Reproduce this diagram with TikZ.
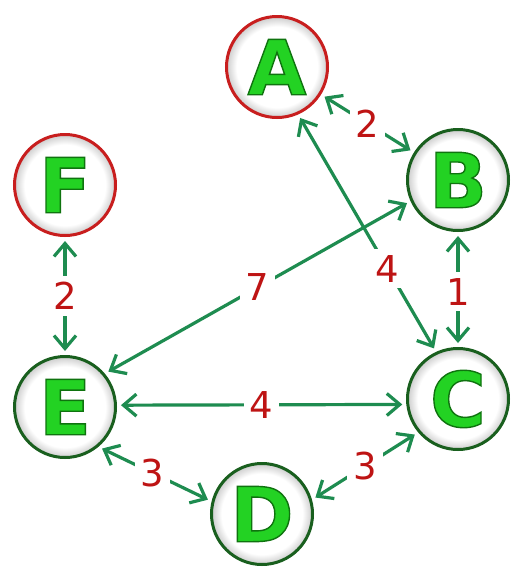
\documentclass[tikz,border=0pt]{standalone}
\usepackage{fontspec}
\setmainfont{DejaVu Sans}
\usetikzlibrary{arrows.meta}
\definecolor{edgegreen}{RGB}{30,140,80}
\definecolor{ringgreen}{RGB}{25,95,30}
\definecolor{ringred}{RGB}{200,30,30}
\definecolor{letterfill}{RGB}{35,210,35}
\definecolor{weightred}{RGB}{190,20,20}
\pgfdeclareradialshading{nodeglow}{\pgfpoint{0bp}{0bp}}{color(0bp)=(white); color(20bp)=(white); color(25bp)=(gray!40); color(50bp)=(gray!40)}
\newcommand{\bevelletter}[1]{{\color{letterfill}\special{pdf:literal direct 2 Tr 1.4 w 0.06 0.45 0.06 RG}#1\special{pdf:literal direct 0 Tr}}}

\begin{document}
\begin{tikzpicture}[x=1pt, y=1pt,
  vertex/.style={circle, draw=ringgreen, line width=3pt, shade, shading=nodeglow,
                 minimum size=101pt, inner sep=0pt, font=\bfseries\fontsize{76}{76}\selectfont},
  rootnode/.style={vertex, draw=ringred},
  link/.style={{Straight Barb[length=13pt,width=22pt]}-{Straight Barb[length=13pt,width=22pt]},
               line width=3.2pt, draw=edgegreen, shorten >=4pt, shorten <=4pt},
  weightlabel/.style={fill=white, text=weightred, inner sep=6pt, font=\fontsize{37}{37}\selectfont}
]
\useasboundingbox (0,0) rectangle (523,-579);
\node[rootnode] (A) at (277,-67) {\bevelletter{A}};
\node[vertex] (B) at (458,-180) {\bevelletter{B}};
\node[vertex] (C) at (458,-399) {\bevelletter{C}};
\node[vertex] (D) at (262,-514) {\bevelletter{D}};
\node[vertex] (E) at (65,-407) {\bevelletter{E}};
\node[rootnode] (F) at (65,-185) {\bevelletter{F}};
\draw[link] (A) -- node[weightlabel] {2} (B);
\draw[link] (A.-66) -- node[weightlabel, pos=0.65] {4} (C.115);
\draw[link] (B) -- node[weightlabel, pos=0.52] {1} (C);
\draw[link] (B.204) -- node[weightlabel] {7} (E.40);
\draw[link] (E.2) -- node[weightlabel] {4} (C.186);
\draw[link] (E.-50) -- node[weightlabel, pos=0.48] {3} (D.166);
\draw[link] (D.16) -- node[weightlabel] {3} (C.220);
\draw[link] (F) -- node[weightlabel] {2} (E);
\end{tikzpicture}
\end{document}
